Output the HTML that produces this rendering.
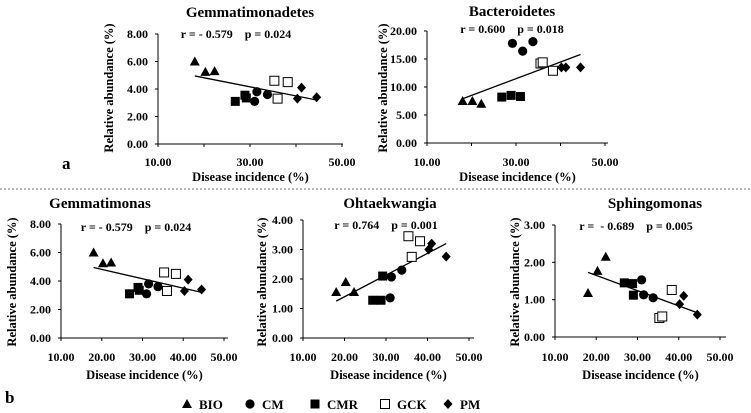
<!DOCTYPE html>
<html><head><meta charset="utf-8"><style>
body{margin:0;background:#fff;}
svg{display:block;font-family:"Liberation Serif",serif;font-weight:bold;}
.pre{white-space:pre;}
</style></head><body>
<svg id="fig" width="751" height="413" viewBox="0 0 751 413" xmlns="http://www.w3.org/2000/svg"></svg>
<script>
const groups = ["BIO","CM","CMR","GCK","PM"];
const titles = ["Gemmatimonadetes","Bacteroidetes","Gemmatimonas","Ohtaekwangia","Sphingomonas"];
const stats = ["r = - 0.579    p = 0.024","r = 0.600    p = 0.018","r = - 0.579    p = 0.024","r = 0.764    p = 0.001","r =  - 0.689    p = 0.005"];
const xTicks = [10,30,50];
const xTicksB = [10,20,30,40,50];
const yTicksGem = [0,2,4,6,8];
const yTicksBac = [0,5,10,15,20];
const yTicksOht = [0,1,2,3,4];
const yTicksSph = [0,1,2,3];
const xGem = [[18,20.3,22.3],[31,31.5,33.8],[26.8,28.9,29.2],[35.3,38.2,36],[40.3,41.2,44.5]];
const yGem = [[6.0,5.25,5.3],[3.1,3.8,3.6],[3.1,3.55,3.35],[4.6,4.5,3.3],[3.3,4.1,3.4]];
const xBac = [[18,20.2,22.2],[29.2,31.5,33.8],[26.8,28.9,31],[35.5,36,38.3],[40.2,41.2,44.5]];
const yBac = [[7.5,7.5,7.0],[17.8,16.4,18.1],[8.2,8.5,8.3],[14.2,14.4,12.9],[13.5,13.5,13.5]];
const xOht = [[18,20.3,22.3],[31.3,33.8,31],[26.8,28.8,29.2],[35.4,38.2,36.2],[40.3,41,44.5]];
const yOht = [[1.56,1.9,1.56],[2.07,2.3,1.36],[1.28,1.28,2.1],[3.45,3.28,2.75],[3.0,3.2,2.76]];
const xSph = [[18,20.3,22.3],[31,31.5,33.8],[26.8,28.8,29],[38.3,35.3,36],[41.2,40.2,44.5]];
const ySph = [[1.18,1.77,2.15],[1.53,1.13,1.05],[1.45,1.43,1.12],[1.26,0.51,0.55],[1.1,0.88,0.6]];
const trendX = [18,44.5];
const trendGem = [4.95,3.2];
const trendBac = [7.9,15.8];
const trendOht = [1.25,3.2];
const trendSph = [1.73,0.65];

const NS="http://www.w3.org/2000/svg";
const svg=document.getElementById('fig');
function el(tag,attrs,parent){const e=document.createElementNS(NS,tag);for(const k in attrs)e.setAttribute(k,attrs[k]);(parent||svg).appendChild(e);return e;}
function txt(s,attrs,parent){const e=el('text',attrs,parent);e.textContent=s;return e;}
function marker(g,type,cx,cy,parent){
  let m;
  if(type===0){m=el('polygon',{points:`${cx},${cy-5} ${cx-5},${cy+4} ${cx+5},${cy+4}`,fill:'#000'},parent);}
  else if(type===1){m=el('circle',{cx:cx,cy:cy,r:4.6,fill:'#000'},parent);}
  else if(type===2){m=el('rect',{x:cx-4.5,y:cy-4.5,width:9,height:9,fill:'#000'},parent);}
  else if(type===3){m=el('rect',{x:cx-4.5,y:cy-4.5,width:9,height:9,fill:'#fff',stroke:'#000','stroke-width':1},parent);}
  else {m=el('polygon',{points:`${cx},${cy-5} ${cx+4.5},${cy} ${cx},${cy+5} ${cx-4.5},${cy}`,fill:'#000'},parent);}
  return m;
}
const panels=[
 {id:'gemmatimonadetes',x0:158,x50:342,xEnd:343,yTop:34,yBot:144,yMax:8,yTicks:yTicksGem,xt:xTicks,xs:xGem,ys:yGem,tr:trendGem,tx:250,ty:17,sx:236,sy:38,ytx:113,yty:88,xlabY:166,xtitY:181},
 {id:'bacteroidetes',x0:427,x50:605,xEnd:608,yTop:31,yBot:143,yMax:20,yTicks:yTicksBac,xt:xTicks,xs:xBac,ys:yBac,tr:trendBac,tx:512,ty:16,sx:512,sy:33,ytx:387,yty:88,xlabY:166,xtitY:181},
 {id:'gemmatimonas',x0:61,x50:224,xEnd:228,yTop:224,yBot:338,yMax:8,yTicks:yTicksGem,xt:xTicksB,xs:xGem,ys:yGem,tr:trendGem,tx:100,ty:208,sx:136,sy:231,ytx:16,yty:282,xlabY:361,xtitY:379},
 {id:'ohtaekwangia',x0:303,x50:469,xEnd:474,yTop:220,yBot:338,yMax:4,yTicks:yTicksOht,xt:xTicksB,xs:xOht,ys:yOht,tr:trendOht,tx:390,ty:208,sx:386,sy:229,ytx:266,yty:282,xlabY:361,xtitY:379},
 {id:'sphingomonas',x0:555,x50:720,xEnd:726,yTop:225,yBot:337,yMax:3,yTicks:yTicksSph,xt:xTicksB,xs:xSph,ys:ySph,tr:trendSph,tx:655,ty:208,sx:636,sy:230,ytx:519,yty:282,xlabY:361,xtitY:379}
];
panels.forEach((p,i)=>{
  const g=el('g',{});
  
  
  const X=v=>p.x0+(v-10)/40*(p.x50-p.x0);
  const Y=v=>p.yBot-v/p.yMax*(p.yBot-p.yTop);
  const t=txt(titles[i],{x:p.tx,y:p.ty,'text-anchor':'middle','font-size':15},g);
  
  
  const s=txt(stats[i],{x:p.sx,y:p.sy,'text-anchor':'middle','font-size':12,'class':'pre'},g);
  
  
  const ax=el('path',{d:`M${p.x0},${p.yTop} V${p.yBot} H${p.xEnd}`,stroke:'#000','stroke-width':1,fill:'none'},g);
  
  
  p.yTicks.forEach(v=>{
    el('line',{x1:p.x0-3,x2:p.x0,y1:Y(v),y2:Y(v),stroke:'#000'},g);
    const l=txt(v.toFixed(2),{x:p.x0-10,y:Y(v)+4,'text-anchor':'end','font-size':12},g);
    
    
  });
  [10,20,30,40,50].forEach(v=>el('line',{x1:X(v),x2:X(v),y1:p.yBot,y2:p.yBot+3,stroke:'#000'},g));
  p.xt.forEach(v=>{
    const l=txt(v.toFixed(2),{x:X(v),y:p.xlabY,'text-anchor':'middle','font-size':12},g);
    
    
  });
  const xt=txt('Disease incidence (%)',{x:(p.x0+p.xEnd)/2,y:p.xtitY,'text-anchor':'middle','font-size':12.5},g);
  
  
  const yt=txt('Relative abundance (%)',{x:0,y:0,'text-anchor':'middle','font-size':12.5,transform:`translate(${p.ytx},${p.yty}) rotate(-90)`},g);
  
  
  const tl=el('line',{x1:X(trendX[0]),y1:Y(p.tr[0]),x2:X(trendX[1]),y2:Y(p.tr[1]),stroke:'#000','stroke-width':1.3},g);
  
  
  p.xs.forEach((arr,gi)=>arr.forEach((xv,k)=>{
    const m=marker(gi,gi,X(xv),Y(p.ys[gi][k]),g);
    
    
  }));
});
const la=txt('a',{x:62,y:169,'font-size':17});


const lb=txt('b',{x:5,y:403,'font-size':17});


const sep=el('line',{x1:0,x2:751,y1:189,y2:189,stroke:'#777','stroke-width':1,'stroke-dasharray':'2,2'});


const legX=[187,250,315,385,448];
groups.forEach((gname,gi)=>{
  const lg=el('g',{});
  
  
  marker(gi,gi,legX[gi],404,lg);
  txt(gname,{x:legX[gi]+12,y:409,'font-size':13},lg);
});
</script>
</body></html>
